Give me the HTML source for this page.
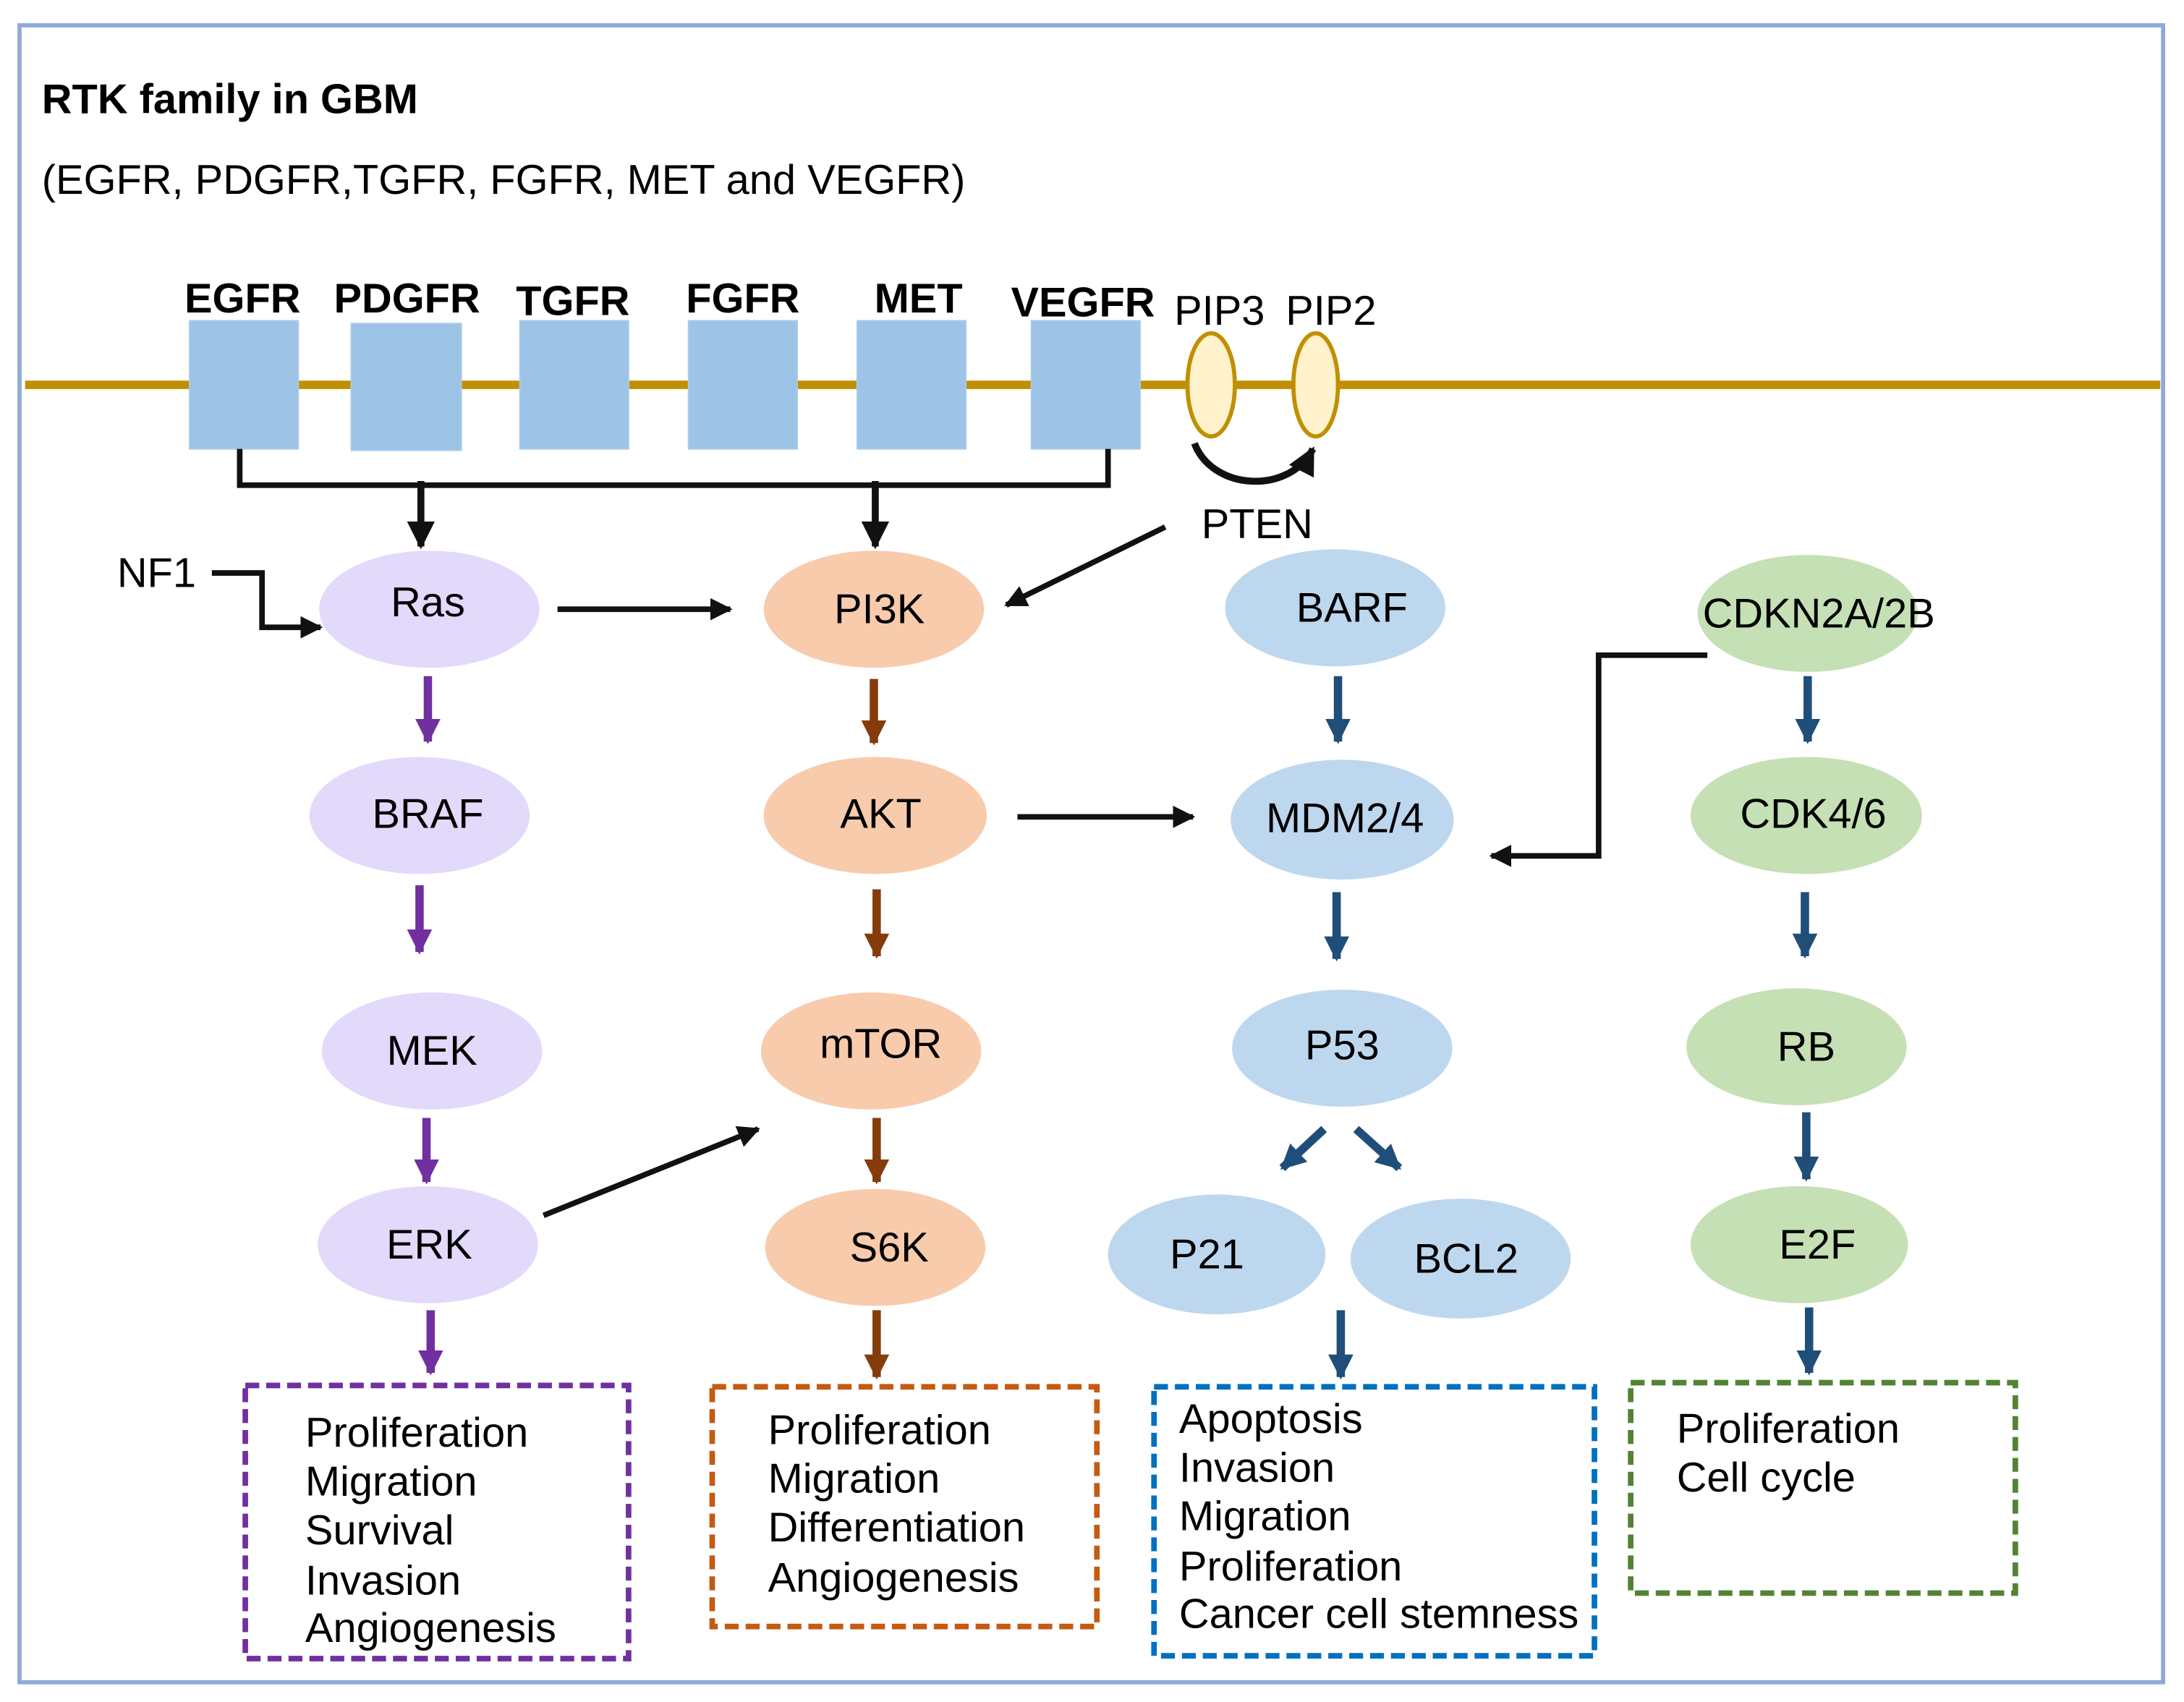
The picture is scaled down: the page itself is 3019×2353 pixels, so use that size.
<!DOCTYPE html>
<html><head><style>html,body{margin:0;padding:0;background:#fff}svg{display:block}text{font-family:"Liberation Sans",Arial,sans-serif;fill:#000}</style></head>
<body>
<svg width="3019" height="2353" viewBox="0 0 1567 1221" xmlns="http://www.w3.org/2000/svg">
<defs>
<marker id="ak" viewBox="0 0 10 10" refX="9" refY="5" markerWidth="4" markerHeight="4" orient="auto" markerUnits="strokeWidth"><path d="M0,0L10,5L0,10z" fill="#111"/></marker>
<marker id="ap" viewBox="0 0 10 10" refX="9" refY="5" markerWidth="3" markerHeight="3" orient="auto" markerUnits="strokeWidth"><path d="M0,0L10,5L0,10z" fill="#7030a0"/></marker>
<marker id="ab" viewBox="0 0 10 10" refX="9" refY="5" markerWidth="3" markerHeight="3" orient="auto" markerUnits="strokeWidth"><path d="M0,0L10,5L0,10z" fill="#843c0c"/></marker>
<marker id="an" viewBox="0 0 10 10" refX="9" refY="5" markerWidth="3" markerHeight="3" orient="auto" markerUnits="strokeWidth"><path d="M0,0L10,5L0,10z" fill="#1f4e79"/></marker>
</defs>
<rect x="14" y="18" width="1538" height="1189" fill="#fff" stroke="#8eaadb" stroke-width="3"/>
<text x="30" y="81" font-size="30" font-weight="bold">RTK family in GBM</text>
<text x="30" y="139" font-size="30">(EGFR, PDGFR,TGFR, FGFR, MET and VEGFR)</text>
<line x1="18" y1="276" x2="1550" y2="276" stroke="#bf9000" stroke-width="6"/>
<g fill="#9dc3e6" stroke="#a9cbe9" stroke-width="1">
<rect x="136" y="230" width="78" height="92"/><rect x="252" y="232" width="79" height="91"/><rect x="373" y="230" width="78" height="92"/>
<rect x="494" y="230" width="78" height="92"/><rect x="615" y="230" width="78" height="92"/><rect x="740" y="230" width="78" height="92"/>
</g>
<g font-size="30" font-weight="bold" text-anchor="middle">
<text x="174" y="224">EGFR</text><text x="292" y="224">PDGFR</text><text x="411" y="226">TGFR</text><text x="533" y="224">FGFR</text><text x="659" y="224">MET</text><text x="777" y="227">VEGFR</text>
</g>
<ellipse cx="869" cy="276" rx="17" ry="37" fill="#fff2cc" stroke="#bf9000" stroke-width="3"/>
<ellipse cx="944" cy="276" rx="16" ry="37" fill="#fff2cc" stroke="#bf9000" stroke-width="3"/>
<text x="875" y="233" font-size="30" text-anchor="middle">PIP3</text>
<text x="955" y="233" font-size="30" text-anchor="middle">PIP2</text>
<path d="M857,318 C870,352 925,355 942,322" fill="none" stroke="#111" stroke-width="5" marker-end="url(#ak)"/>
<text x="902" y="386" font-size="30" text-anchor="middle">PTEN</text>
<path d="M172,322 V348 H795 V322" fill="none" stroke="#111" stroke-width="4"/>
<line x1="302" y1="345" x2="302" y2="392" stroke="#111" stroke-width="5" marker-end="url(#ak)"/>
<line x1="628" y1="345" x2="628" y2="392" stroke="#111" stroke-width="5" marker-end="url(#ak)"/>
<text x="84" y="421" font-size="30">NF1</text>
<path d="M152,411 H188 V450 H230" fill="none" stroke="#111" stroke-width="4" marker-end="url(#ak)"/>
<line x1="400" y1="437" x2="524" y2="437" stroke="#111" stroke-width="4" marker-end="url(#ak)"/>
<line x1="836" y1="378" x2="722" y2="434" stroke="#111" stroke-width="4" marker-end="url(#ak)"/>
<line x1="730" y1="586" x2="856" y2="586" stroke="#111" stroke-width="4" marker-end="url(#ak)"/>
<line x1="390" y1="872" x2="544" y2="810" stroke="#111" stroke-width="4" marker-end="url(#ak)"/>
<path d="M1225,470 H1147 V614 H1070" fill="none" stroke="#111" stroke-width="4" marker-end="url(#ak)"/>
<g font-size="30" text-anchor="middle">
<ellipse cx="308" cy="437" rx="79" ry="42" fill="#e2d9fb"/><text x="307" y="442">Ras</text>
<ellipse cx="301" cy="585" rx="79" ry="42" fill="#e2d9fb"/><text x="307" y="594">BRAF</text>
<ellipse cx="310" cy="754" rx="79" ry="42" fill="#e2d9fb"/><text x="310" y="764">MEK</text>
<ellipse cx="307" cy="893" rx="79" ry="42" fill="#e2d9fb"/><text x="308" y="903">ERK</text>
<ellipse cx="627" cy="437" rx="79" ry="42" fill="#f8cbad"/><text x="631" y="447">PI3K</text>
<ellipse cx="628" cy="585" rx="80" ry="42" fill="#f8cbad"/><text x="632" y="594">AKT</text>
<ellipse cx="625" cy="754" rx="79" ry="42" fill="#f8cbad"/><text x="632" y="759">mTOR</text>
<ellipse cx="628" cy="895" rx="79" ry="42" fill="#f8cbad"/><text x="638" y="905">S6K</text>
<ellipse cx="958" cy="436" rx="79" ry="42" fill="#bdd7ee"/><text x="970" y="446">BARF</text>
<ellipse cx="963" cy="588" rx="80" ry="43" fill="#bdd7ee"/><text x="965" y="597">MDM2/4</text>
<ellipse cx="963" cy="752" rx="79" ry="42" fill="#bdd7ee"/><text x="963" y="760">P53</text>
<ellipse cx="873" cy="900" rx="78" ry="43" fill="#bdd7ee"/><text x="866" y="910">P21</text>
<ellipse cx="1048" cy="903" rx="79" ry="43" fill="#bdd7ee"/><text x="1052" y="913">BCL2</text>
<ellipse cx="1297" cy="440" rx="79" ry="42" fill="#c5e0b4"/><text x="1305" y="450">CDKN2A/2B</text>
<ellipse cx="1296" cy="585" rx="83" ry="42" fill="#c5e0b4"/><text x="1301" y="594">CDK4/6</text>
<ellipse cx="1289" cy="751" rx="79" ry="42" fill="#c5e0b4"/><text x="1296" y="761">RB</text>
<ellipse cx="1291" cy="893" rx="78" ry="42" fill="#c5e0b4"/><text x="1304" y="903">E2F</text>
</g>
<g stroke="#7030a0" stroke-width="6">
<line x1="307" y1="485" x2="307" y2="532" marker-end="url(#ap)"/><line x1="301" y1="635" x2="301" y2="683" marker-end="url(#ap)"/>
<line x1="306" y1="802" x2="306" y2="848" marker-end="url(#ap)"/><line x1="309" y1="940" x2="309" y2="985" marker-end="url(#ap)"/>
</g>
<g stroke="#843c0c" stroke-width="6">
<line x1="627" y1="487" x2="627" y2="533" marker-end="url(#ab)"/><line x1="629" y1="638" x2="629" y2="686" marker-end="url(#ab)"/>
<line x1="629" y1="802" x2="629" y2="848" marker-end="url(#ab)"/><line x1="629" y1="940" x2="629" y2="988" marker-end="url(#ab)"/>
</g>
<g stroke="#1f4e79" stroke-width="6">
<line x1="960" y1="485" x2="960" y2="532" marker-end="url(#an)"/><line x1="959" y1="640" x2="959" y2="688" marker-end="url(#an)"/>
<line x1="950" y1="810" x2="920" y2="838" marker-end="url(#an)"/><line x1="973" y1="810" x2="1004" y2="838" marker-end="url(#an)"/>
<line x1="962" y1="940" x2="962" y2="988" marker-end="url(#an)"/>
<line x1="1297" y1="485" x2="1297" y2="532" marker-end="url(#an)"/><line x1="1295" y1="640" x2="1295" y2="686" marker-end="url(#an)"/>
<line x1="1296" y1="798" x2="1296" y2="846" marker-end="url(#an)"/><line x1="1298" y1="938" x2="1298" y2="985" marker-end="url(#an)"/>
</g>
<g fill="none" stroke-width="4" stroke-dasharray="10,5">
<rect x="176" y="994" width="275" height="196" stroke="#7030a0"/>
<rect x="511" y="995" width="276" height="172" stroke="#c55a11"/>
<rect x="828" y="995" width="316" height="193" stroke="#0070c0"/>
<rect x="1170" y="992" width="276" height="151" stroke="#548235"/>
</g>
<g font-size="30">
<text x="219" y="1038">Proliferation</text><text x="219" y="1073">Migration</text><text x="219" y="1108">Survival</text><text x="219" y="1144">Invasion</text><text x="219" y="1178">Angiogenesis</text>
<text x="551" y="1036">Proliferation</text><text x="551" y="1071">Migration</text><text x="551" y="1106">Differentiation</text><text x="551" y="1142">Angiogenesis</text>
<text x="846" y="1028">Apoptosis</text><text x="846" y="1063">Invasion</text><text x="846" y="1098">Migration</text><text x="846" y="1134">Proliferation</text><text x="846" y="1168">Cancer cell stemness</text>
<text x="1203" y="1035">Proliferation</text><text x="1203" y="1070">Cell cycle</text>
</g>
</svg>
</body></html>
